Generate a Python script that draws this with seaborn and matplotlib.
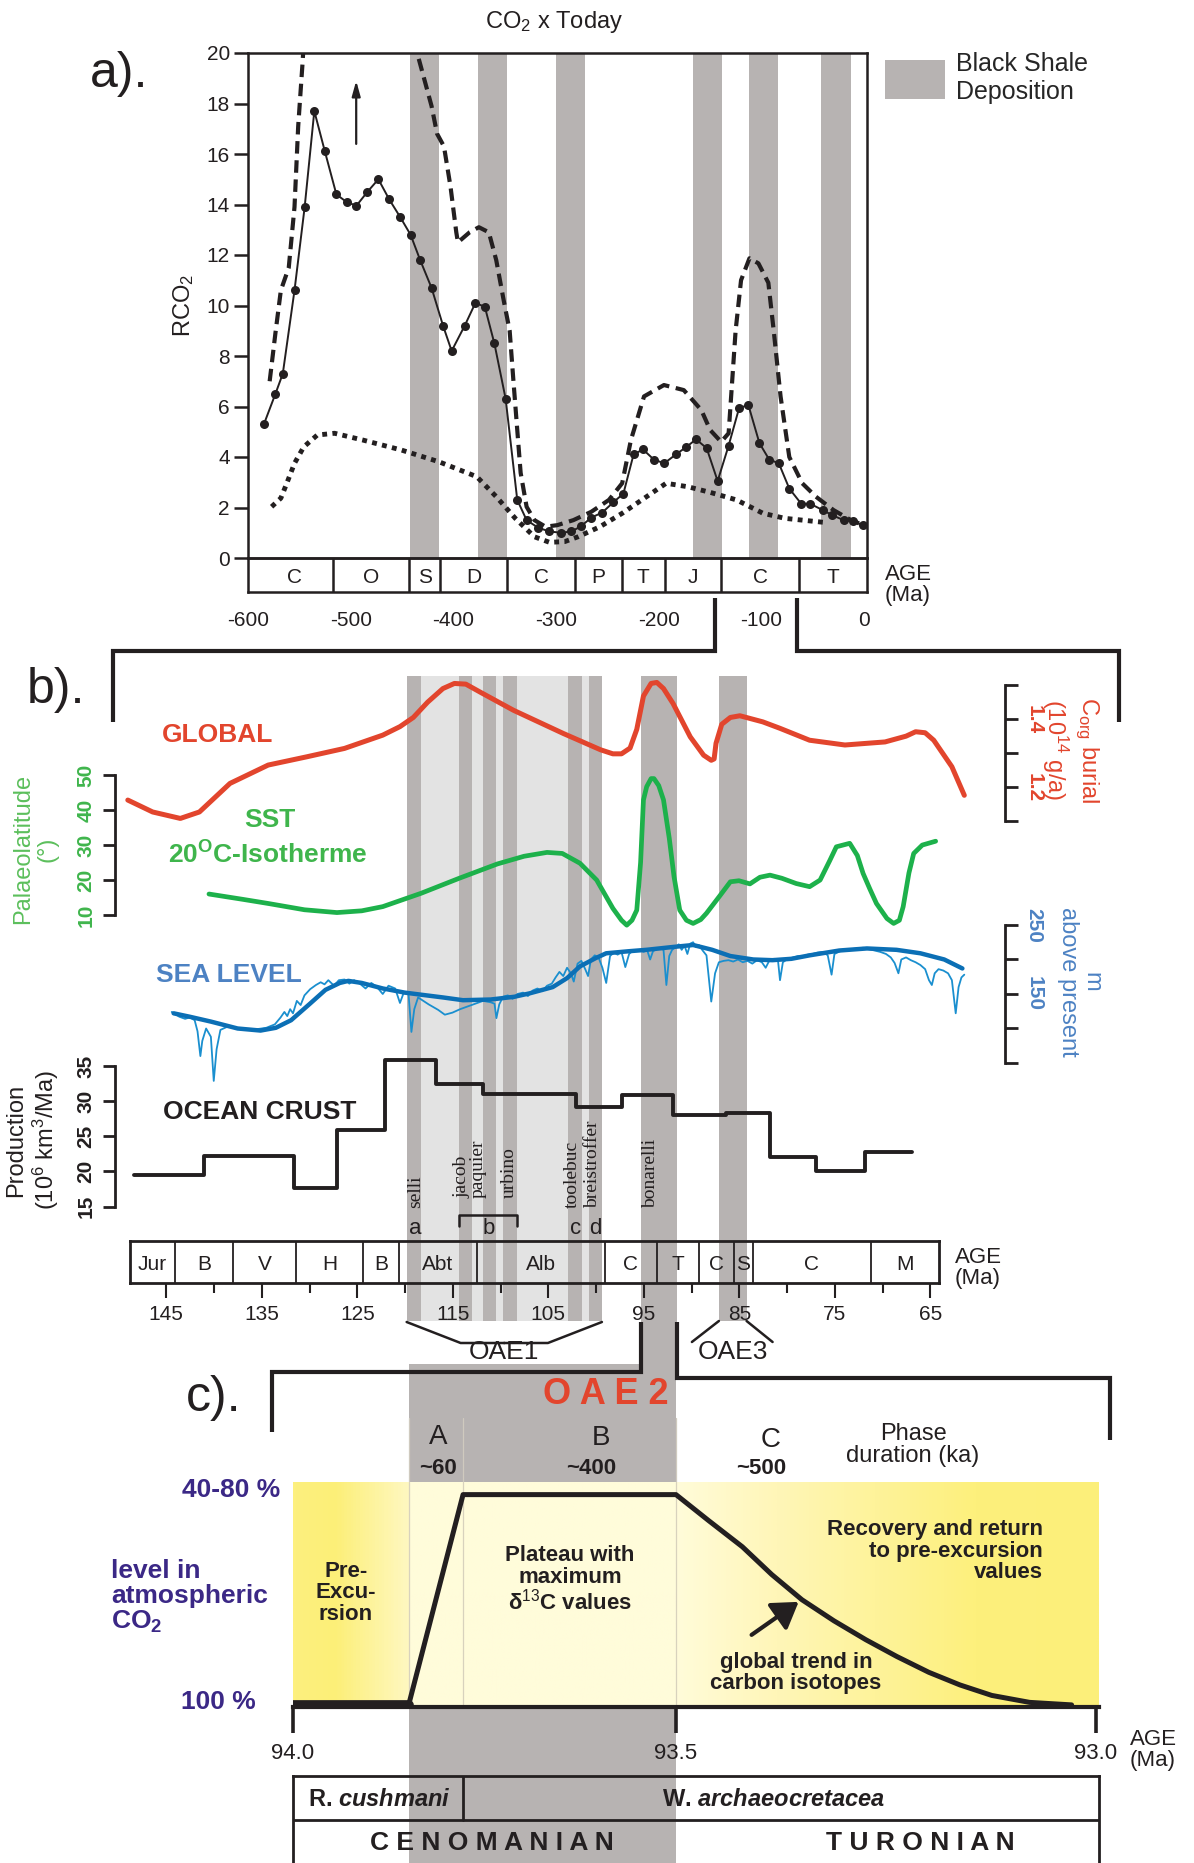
import numpy as np
import matplotlib
matplotlib.use("Agg")
import matplotlib.pyplot as plt
import seaborn as sns
from matplotlib.patches import Patch
from matplotlib.colors import LinearSegmentedColormap

# ---------------- a) RCO2 through the Phanerozoic ----------------
age_geocarb = [-584.5, -573.3, -566.1, -554.7, -544.8, -535.4, -525.1, -513.9, -504.0, -494.4,
               -483.7, -473.0, -462.4, -451.7, -441.6, -432.3, -421.2, -410.0, -401.6, -388.9,
               -378.5, -369.3, -360.0, -349.0, -337.7, -328.6, -317.4, -306.3, -295.1, -285.0,
               -275.8, -265.6, -254.9, -244.3, -234.3, -224.4, -215.2, -204.7, -194.5, -183.2,
               -172.9, -163.5, -153.2, -142.5, -131.8, -121.5, -112.5, -101.8, -92.3, -82.9,
               -72.7, -61.1, -52.4, -40.3, -31.0, -19.8, -10.3, -1.0]
rco2_geocarb = [5.3, 6.5, 7.3, 10.6, 13.9, 17.7, 16.1, 14.4, 14.1, 13.95,
                14.5, 15.0, 14.2, 13.5, 12.8, 11.8, 10.7, 9.2, 8.2, 9.2,
                10.1, 9.95, 8.5, 6.3, 2.3, 1.5, 1.2, 1.05, 1.0, 1.05,
                1.25, 1.6, 1.8, 2.2, 2.55, 4.1, 4.3, 3.9, 3.75, 4.1,
                4.4, 4.7, 4.35, 3.05, 4.45, 5.95, 6.05, 4.55, 3.9, 3.75,
                2.75, 2.15, 2.15, 1.9, 1.7, 1.5, 1.45, 1.3]

age_upper = [-578.9, -573.3, -568.0, -560.3, -554.7, -551.1, -546.7, -545.0, -437.0, -435.2,
             -421.2, -415.8, -409.1, -402.7, -397.1, -395.5, -384.1, -375.1, -365.4, -358.2,
             -350.9, -345.1, -341.5, -337.7, -334.4, -328.6, -321.0, -310.2, -298.8, -283.0,
             -265.6, -248.4, -235.5, -227.0, -214.2, -194.8, -175.5, -158.4, -149.8, -139.1,
             -131.8, -125.0, -119.7, -111.5, -102.8, -93.1, -87.6, -81.2, -72.7, -60.1,
             -46.8, -29.7, -12.6, -1.0]
rco2_upper = [7.0, 8.9, 10.6, 11.5, 13.9, 17.1, 19.7, 21.0, 21.0, 20.0,
              17.9, 16.8, 16.3, 14.7, 12.9, 12.5, 12.9, 13.1, 12.9, 11.8,
              10.2, 9.0, 7.05, 5.07, 3.37, 2.03, 1.5, 1.24, 1.3, 1.5,
              1.83, 2.3, 2.96, 4.67, 6.4, 6.85, 6.65, 5.86, 5.07, 4.6,
              4.94, 9.0, 11.0, 11.87, 11.67, 10.9, 8.9, 6.4, 4.0, 2.96,
              2.43, 1.9, 1.5, 1.31]

age_lower = [-577.0, -568.0, -562.2, -554.7, -545.7, -532.5, -515.7, -488.0, -450.9, -413.9,
             -377.1, -358.2, -339.6, -321.0, -306.3, -291.4, -278.5, -257.1, -235.5, -214.2,
             -192.7, -171.3, -149.8, -124.1, -98.3, -76.9, -55.3, -36.1]
rco2_lower = [2.03, 2.37, 2.96, 3.75, 4.4, 4.87, 4.94, 4.67, 4.28, 3.81,
              3.22, 2.43, 1.57, 0.84, 0.62, 0.65, 0.84, 1.24, 1.77, 2.36,
              2.96, 2.82, 2.6, 2.3, 1.77, 1.57, 1.48, 1.4]

shale_a = [(-442.0, -413.9), (-376.1, -348.0), (-299.5, -271.4),
           (-166.7, -138.6), (-111.5, -83.4), (-41.7, -12.6)]
period_names = ['C', 'O', 'S', 'D', 'C', 'P', 'T', 'J', 'C', 'T']
period_edges = [-593, -517, -443, -413, -348, -281, -236, -194, -139, -63, 3]
age_ticks_a = [-600, -500, -400, -300, -200, -100, 0]
zoom_window = (-145, -65)

# ---------------- b) Cretaceous records ----------------
age_burial = [149.0, 146.4, 143.5, 141.5, 138.3, 134.3, 130.3, 126.3, 122.3, 120.5,
              119.1, 117.6, 116.0, 114.8, 113.6, 112.0, 108.6, 103.4, 99.5, 98.2,
              97.3, 96.4, 95.7, 95.0, 94.2, 93.6, 92.9, 91.9, 90.1, 88.7,
              87.9, 87.6, 87.4, 86.8, 85.9, 84.9, 82.5, 80.7, 77.6, 73.9,
              69.7, 67.5, 66.5, 65.5, 64.6, 62.7, 61.4]
burial = [1.162, 1.127, 1.108, 1.127, 1.211, 1.265, 1.289, 1.314, 1.353, 1.378,
          1.405, 1.45, 1.49, 1.505, 1.503, 1.478, 1.426, 1.358, 1.31, 1.298,
          1.298, 1.315, 1.37, 1.468, 1.505, 1.508, 1.49, 1.446, 1.348, 1.294,
          1.279, 1.283, 1.329, 1.385, 1.405, 1.41, 1.392, 1.373, 1.338, 1.324,
          1.333, 1.35, 1.363, 1.36, 1.338, 1.260, 1.176]

age_sst = [140.5, 137.0, 134.3, 130.5, 127.1, 124.5, 122.3, 118.3, 114.3, 110.3,
           107.5, 105.1, 103.5, 101.65, 99.9, 98.2, 97.3, 96.75, 96.2, 95.7,
           95.3, 95.0, 94.66, 94.2, 93.9, 93.4, 92.9, 92.3, 91.8, 91.2,
           90.5, 89.8, 89.0, 88.4, 87.0, 85.9, 85.0, 83.85, 82.8, 81.75,
           80.5, 79.0, 77.6, 76.5, 75.5, 74.8, 73.4, 72.6, 72.0, 71.3,
           70.6, 69.5, 68.8, 68.2, 67.8, 67.2, 66.7, 65.8, 64.4]
sst_lat = [16.0, 14.5, 13.3, 11.5, 10.7, 11.2, 12.4, 16.2, 20.5, 24.6,
           26.8, 27.9, 27.6, 24.8, 20.0, 11.9, 8.5, 7.1, 8.5, 11.4,
           25.0, 42.9, 46.7, 49.0, 49.0, 47.0, 42.9, 32.0, 21.0, 11.4,
           8.5, 7.6, 8.7, 10.5, 15.5, 19.5, 19.8, 18.9, 20.8, 21.4,
           20.5, 19.0, 18.1, 20.0, 25.5, 29.5, 30.5, 27.0, 21.9, 17.5,
           13.3, 9.0, 7.6, 8.5, 12.4, 22.0, 27.6, 30.0, 31.1]

age_sea_smooth = [144.2, 142.5, 140.3, 137.5, 135.1, 133.5, 131.9, 130.0, 128.3, 126.8,
                  125.9, 124.5, 122.3, 120.0, 118.3, 116.0, 113.9, 111.0, 108.5, 106.9,
                  104.5, 103.0, 101.65, 100.0, 98.9, 96.5, 94.7, 92.0, 89.8, 87.8,
                  85.9, 83.5, 81.5, 79.5, 77.6, 74.5, 71.6, 68.5, 66.0, 63.5, 61.6]
sea_smooth = [122, 117, 110, 100, 97, 101, 112, 135, 156, 166,
              169, 166, 158, 152, 149, 145, 141, 142, 146, 151,
              160, 173, 190, 202, 209, 212, 214, 218, 221, 214,
              205, 200, 199, 201, 206, 213, 216, 214, 209, 200, 187]

age_sea = [144.4, 143.6, 143.0, 142.5, 142.0, 141.7, 141.4, 141.2, 140.8, 140.3,
           140.0, 139.7, 139.3, 138.5, 137.5, 136.5, 135.5, 134.5, 133.6, 133.0,
           132.6, 132.3, 132.0, 131.7, 131.3, 130.9, 130.5, 129.9, 129.3, 128.8,
           128.4, 128.0, 127.4, 126.9, 126.3, 125.8, 125.3, 124.7, 124.1, 123.5,
           122.9, 122.3, 121.7, 121.0, 120.5, 120.1, 119.6, 119.3, 119.0, 118.6,
           117.5, 116.5, 115.8, 115.0, 114.2, 113.4, 112.6, 111.8, 111.0, 110.6,
           110.4, 110.1, 109.7, 109.2, 108.7, 108.2, 107.6, 107.1, 106.6, 106.1,
           105.6, 105.1, 104.6, 104.2, 103.8, 103.4, 103.0, 102.6, 102.3, 101.9,
           101.5, 101.1, 100.8, 100.5, 100.1, 99.7, 99.3, 98.9, 98.5, 98.1,
           97.7, 97.3, 96.9, 96.5, 96.1, 95.7, 95.3, 95.0, 94.6, 94.3,
           94.0, 93.6, 93.2, 92.9, 92.6, 92.3, 92.0, 91.7, 91.3, 91.0,
           90.7, 90.4, 90.1, 89.8, 89.5, 89.2, 88.8, 88.4, 87.9, 87.5,
           87.1, 86.6, 86.1, 85.6, 85.1, 84.6, 84.1, 83.6, 83.1, 82.6,
           82.2, 81.8, 81.3, 80.9, 80.7, 80.4, 79.9, 79.3, 78.8, 78.3,
           77.8, 77.3, 76.8, 76.2, 75.7, 75.3, 75.0, 74.4, 73.8, 73.2,
           72.6, 72.0, 71.4, 70.8, 70.2, 69.6, 69.1, 68.7, 68.3, 68.0,
           67.5, 67.0, 66.5, 66.0, 65.5, 65.1, 64.8, 64.5, 64.1, 63.6,
           63.1, 62.7, 62.3, 62.0, 61.7, 61.4]
sea = [124, 117, 114, 116, 112, 96, 60, 82, 100, 88,
       24, 70, 98, 103, 100, 98, 99, 101, 106, 116,
       124, 118, 128, 122, 140, 134, 148, 157, 163, 167,
       164, 170, 162, 170, 171, 165, 170, 165, 158, 166,
       160, 150, 162, 158, 137, 152, 150, 95, 128, 145,
       135, 127, 120, 123, 128, 132, 136, 140, 138, 136,
       115, 135, 146, 148, 143, 150, 152, 147, 155, 158,
       154, 162, 165, 174, 182, 176, 188, 180, 168, 194,
       198, 186, 176, 200, 206, 203, 188, 166, 205, 210,
       207, 211, 189, 208, 213, 212, 214, 211, 213, 200,
       212, 215, 216, 214, 163, 205, 214, 217, 222, 214,
       220, 208, 223, 225, 218, 221, 213, 206, 139, 180,
       196, 198, 199, 197, 200, 196, 198, 194, 199, 196,
       188, 199, 201, 197, 170, 196, 201, 203, 205, 204,
       207, 208, 210, 211, 206, 178, 208, 212, 214, 215,
       216, 217, 215, 213, 211, 208, 203, 195, 180, 200,
       203, 199, 196, 192, 186, 170, 163, 180, 186, 184,
       180, 170, 122, 160, 174, 178]

age_crust = [148.4, 141.0, 131.6, 127.1, 122.1, 116.7, 111.8, 102.1, 97.2, 91.9,
             86.4, 81.8, 76.9, 71.8, 66.9]
crust = [19.5, 22.2, 17.7, 25.9, 35.8, 32.4, 31.0, 29.2, 30.9, 28.0,
         28.3, 22.1, 20.0, 22.7, 22.7]

stage_edges_b = [148.8, 144.1, 138.0, 131.4, 124.4, 120.6, 112.5, 99.1, 93.6, 89.2,
                 85.6, 83.6, 71.2, 64.1]
stage_names_b = ['Jur', 'B', 'V', 'H', 'B', 'Abt', 'Alb', 'C', 'T', 'C', 'S', 'C', 'M']
age_ticks_b = [145, 135, 125, 115, 105, 95, 85, 75, 65]
age_minor_b = [140, 130, 120, 110, 100, 90, 80, 70]

oae1_span = (119.8, 99.35)
oae1_bands = [(119.8, 118.3), (114.3, 113.0), (111.8, 110.4), (109.7, 108.2),
              (102.9, 101.4), (100.7, 99.35)]
oae2_band = (95.3, 91.5)
oae3_band = (87.1, 84.2)
event_names = ['selli', 'jacob', 'paquier', 'urbino', 'toolebuc', 'breistroffer', 'bonarelli']
event_ages = [118.9, 114.0, 112.3, 109.1, 102.5, 100.3, 94.3]

# ---------------- c) OAE2 phases ----------------
co2_age = [94.0, 93.849, 93.778, 93.5, 93.461, 93.421, 93.386, 93.35, 93.312, 93.274,
           93.237, 93.199, 93.162, 93.124, 93.079, 93.029]
co2_level = [0.0, 0.0, 1.0, 1.0, 0.876, 0.752, 0.62, 0.50, 0.40, 0.31,
             0.23, 0.155, 0.095, 0.045, 0.012, 0.0]
phase_edges = [93.849, 93.778, 93.5]
age_ticks_c = [94.0, 93.5, 93.0]

# ---------------- style ----------------
sns.set_style("white")
plt.rcParams['font.family'] = ['Liberation Sans', 'DejaVu Sans']
plt.rcParams['mathtext.fontset'] = 'custom'
plt.rcParams['mathtext.rm'] = 'Liberation Sans'
plt.rcParams['mathtext.it'] = 'Liberation Sans:italic:bold'
plt.rcParams['mathtext.bf'] = 'Liberation Sans:bold'
plt.rcParams['axes.unicode_minus'] = False

INK = '#231f20'
GRAY = '#b7b3b2'
LIGHT = '#e3e3e3'
RED = '#e2452d'
GREEN = '#1db14b'
GREEN_T = '#3fb54c'
GREEN_L = '#5cbf5c'
BLUE = '#0b6fb5'
BLUE_THIN = '#1a8fcf'
BLUE_T = '#4d82c3'
PURPLE = '#3b2886'

W, H = 1194, 1863
fig = plt.figure(figsize=(W / 100, H / 100), dpi=100)


def rect(x0, y0, x1, y1):
    return [x0 / W, 1 - y1 / H, (x1 - x0) / W, (y1 - y0) / H]


def txt(x, y, s, **kw):
    kw.setdefault('ha', 'center')
    kw.setdefault('va', 'center')
    kw.setdefault('color', INK)
    fig.text(x / W, 1 - y / H, s, **kw)


def xpix(ax, age):
    return ax.transData.transform((age, 0))[0]


# the OAE2 time axis of the original is drawn with a wider Turonian half
def c_fwd(x):
    x = np.asarray(x, dtype=float)
    return np.where(x >= 93.5, (x - 94.0) * 766.0, -383.0 + (x - 93.5) * 840.0)


def c_inv(u):
    u = np.asarray(u, dtype=float)
    return np.where(u >= -383.0, 94.0 + u / 766.0, 93.5 + (u + 383.0) / 840.0)


# ================= panel a =================
ax_a = fig.add_axes(rect(248, 53, 867, 558))
for a, b in shale_a:
    ax_a.axvspan(a, b, color=GRAY, lw=0, zorder=0)
sns.lineplot(x=age_upper, y=rco2_upper, ax=ax_a, color=INK, lw=3,
             linestyle=(0, (3, 1.6)), estimator=None)
sns.lineplot(x=age_lower, y=rco2_lower, ax=ax_a, color=INK, lw=3.5,
             linestyle=(0, (1, 1.1)), estimator=None)
sns.lineplot(x=age_geocarb, y=rco2_geocarb, ax=ax_a, color=INK, lw=1.4,
             marker='o', markersize=6.5, markeredgewidth=0, estimator=None)
ax_a.set_xlim(-600, 3)
ax_a.set_ylim(0, 20)
ax_a.set_xticks([])
ax_a.set_yticks(range(0, 21, 2))
ax_a.tick_params(axis='y', left=True, direction='out', length=10, width=1.8,
                 labelsize=15, pad=3, colors=INK)
for s in ax_a.spines.values():
    s.set_linewidth(1.8)
    s.set_color(INK)
ax_a.annotate('', xy=(-494.6, 18.9), xytext=(-494.6, 16.4),
              arrowprops=dict(arrowstyle='-|>,head_length=0.9,head_width=0.25',
                              lw=1.6, color=INK, shrinkA=0, shrinkB=0))
ax_a.legend(handles=[Patch(facecolor=GRAY, edgecolor='none', label='Black Shale\nDeposition')],
            loc='upper left', bbox_to_anchor=(885 / W, 1 - 52 / H),
            bbox_transform=fig.transFigure, frameon=False, fontsize=18,
            handlelength=2.4, handleheight=2.0, handletextpad=0.45,
            borderpad=0, borderaxespad=0, labelspacing=0)

ax_t = fig.add_axes(rect(248, 558, 867, 592))
ax_t.set_facecolor('none')
ax_t.set_xlim(-600, 3)
ax_t.set_ylim(0, 1)
for e in period_edges[1:-1]:
    ax_t.axvline(e, color=INK, lw=1.8)
for name, lo, hi in zip(period_names, period_edges[:-1], period_edges[1:]):
    ax_t.text((lo + hi) / 2, 0.42, name, ha='center', va='center', fontsize=15, color=INK)
ax_t.set_yticks([])
ax_t.set_xticks(age_ticks_a)
ax_t.tick_params(axis='x', length=0, labelsize=15, pad=14, colors=INK)
for s in ax_t.spines.values():
    s.set_linewidth(1.8)
    s.set_color(INK)

txt(119, 74, 'a).', fontsize=36)
txt(554, 22, 'CO$_2$ x Today', fontsize=17)
txt(184, 305, 'RCO$_2$', fontsize=17, rotation=90)
txt(885, 585, 'AGE\n(Ma)', fontsize=16, ha='left', linespacing=1.0)

# ================= panel b =================
XB = (150.55, 45.2)
ax_bg = fig.add_axes(rect(113, 676, 1119, 1372))
ax_bg.set_xlim(*XB)
ax_bg.set_ylim(0, 1)
ax_bg.axis('off')
low = (1372 - 1321) / (1372 - 676)
ax_bg.axvspan(*oae1_span, ymin=low, color=LIGHT, lw=0)
for a, b in oae1_bands:
    ax_bg.axvspan(a, b, ymin=low, color=GRAY, lw=0)
ax_bg.axvspan(*oae3_band, ymin=low, color=GRAY, lw=0)
ax_bg.axvspan(*oae2_band, ymin=0, color=GRAY, lw=0)


def layer():
    ax = fig.add_axes(rect(113, 660, 1119, 1240))
    ax.set_facecolor('none')
    ax.set_xticks([])
    for k in ['top', 'bottom', 'left', 'right']:
        ax.spines[k].set_visible(False)
    return ax


def side_axis(ax, side, frac, bounds, ticks, labels, color):
    sp = ax.spines[side]
    sp.set_visible(True)
    sp.set_position(('axes', frac))
    sp.set_bounds(*bounds)
    sp.set_linewidth(2)
    sp.set_color(INK)
    if side == 'right':
        ax.yaxis.tick_right()
        ax.tick_params(axis='y', right=True, left=False, labelrotation=-90)
    else:
        ax.tick_params(axis='y', left=True, right=False, labelrotation=90)
    ax.set_yticks(ticks, labels)
    ax.tick_params(axis='y', direction='out', length=9, width=2, labelsize=15,
                   labelcolor=color, color=INK, pad=5)
    for t in ax.get_yticklabels():
        t.set_fontweight('bold')
        t.set_va('center')


ax_r = layer()
sns.lineplot(x=age_burial, y=burial, ax=ax_r, color=RED, lw=3.6, estimator=None)
ax_r.set_xlim(*XB)
ax_r.set_ylim(-0.132, 1.574)
side_axis(ax_r, 'right', (1005 - 113) / 1006, (1.1, 1.5), [1.1, 1.2, 1.3, 1.4, 1.5],
          ['', '1.2', '', '1.4', ''], RED)

ax_g = layer()
sns.lineplot(x=age_sst, y=sst_lat, ax=ax_g, color=GREEN, lw=3.4, estimator=None)
ax_g.set_xlim(*XB)
ax_g.set_ylim(-82.9, 82.9)
side_axis(ax_g, 'left', 2 / 1006, (10, 50), [10, 20, 30, 40, 50],
          ['10', '20', '30', '40', '50'], GREEN_T)

ax_s = layer()
sns.lineplot(x=age_sea, y=sea, ax=ax_s, color=BLUE_THIN, lw=1.3, estimator=None)
sns.lineplot(x=age_sea_smooth, y=sea_smooth, ax=ax_s, color=BLUE, lw=3.2, estimator=None)
ax_s.set_xlim(*XB)
ax_s.set_ylim(-206.5, 634)
side_axis(ax_s, 'right', (1005 - 113) / 1006, (50, 250), [50, 100, 150, 200, 250],
          ['', '', '150', '', '250'], BLUE_T)

ax_k = layer()
sns.lineplot(x=age_crust, y=crust, ax=ax_k, color=INK, lw=2.8, estimator=None,
             sort=False, drawstyle='steps-post')
ax_k.set_xlim(*XB)
ax_k.set_ylim(10.25, 92.75)
side_axis(ax_k, 'left', 2 / 1006, (15, 35), [15, 20, 25, 30, 35],
          ['15', '20', '25', '30', '35'], INK)

ax_st = fig.add_axes(rect(130, 1241, 939, 1283))
ax_st.set_facecolor('none')
ax_st.set_xlim(stage_edges_b[0], stage_edges_b[-1])
ax_st.set_ylim(0, 1)
for e in stage_edges_b[1:-1]:
    ax_st.axvline(e, color=INK, lw=1.3)
for name, lo, hi in zip(stage_names_b, stage_edges_b[:-1], stage_edges_b[1:]):
    ax_st.text((lo + hi) / 2, 0.45, name, ha='center', va='center', fontsize=15, color=INK)
ax_st.set_yticks([])
ax_st.set_xticks(age_ticks_b)
ax_st.set_xticks(age_minor_b, minor=True)
ax_st.tick_params(axis='x', which='major', bottom=True, length=11, width=1.5,
                  labelsize=15, pad=5, colors=INK)
ax_st.tick_params(axis='x', which='minor', bottom=True, length=7, width=1.5, colors=INK)
for s in ax_st.spines.values():
    s.set_linewidth(2)
    s.set_color(INK)

for name, age in zip(event_names, event_ages):
    bottom = 1208 if name in ('selli', 'toolebuc', 'breistroffer', 'bonarelli') else 1198
    txt(xpix(ax_bg, age), bottom, name, rotation=90, va='bottom', fontsize=14,
        family='Liberation Serif')
for lab, age in zip(['a', 'b', 'c', 'd'], [118.9, 111.2, 102.1, 100.0]):
    txt(xpix(ax_bg, age), 1229, lab, fontsize=16)

txt(56, 690, 'b).', fontsize=36)
txt(218, 735, 'GLOBAL', fontsize=19, weight='bold', color=RED)
txt(270, 820, 'SST', fontsize=19, weight='bold', color=GREEN_T)
txt(268, 855, r'20$^{\mathbf{O}}$C-Isotherme', fontsize=19, weight='bold', color=GREEN_T)
txt(229, 975, 'SEA LEVEL', fontsize=19, weight='bold', color=BLUE_T)
txt(260, 1112, 'OCEAN CRUST', fontsize=19, weight='bold', color=INK)
txt(35, 849, 'Palaeolatitude\n(°)', fontsize=17, rotation=90, color=GREEN_L, linespacing=1.15)
txt(33, 1140, 'Production\n(10$^6$ km$^3$/Ma)', fontsize=17, rotation=90, linespacing=1.15)
txt(1070, 750, 'C$_{\\mathrm{org}}$ burial\n(10$^{14}$ g/a)', fontsize=17, rotation=-90,
    color=RED, linespacing=1.1)
txt(1080, 982, 'm\nabove present', fontsize=17, rotation=-90, color=BLUE_T, linespacing=1.1)
txt(955, 1268, 'AGE\n(Ma)', fontsize=16, ha='left', linespacing=1.05)

# ================= panel c =================
XC = (94.0, 92.9964)
ax_cbg = fig.add_axes(rect(293, 1364, 1099, 1863))
ax_cbg.set_xscale('function', functions=(c_fwd, c_inv))
ax_cbg.set_xlim(*XC)
ax_cbg.set_ylim(0, 1)
ax_cbg.axis('off')
ax_cbg.axvspan(phase_edges[0], phase_edges[-1], color=GRAY, lw=0)
for e in phase_edges:
    ax_cbg.axvline(e, ymin=(1863 - 1707) / 499, ymax=(1863 - 1418) / 499,
                   color='#cfcabf', lw=0.9)

ax_y = fig.add_axes(rect(293, 1482, 1099, 1707))
ax_y.axis('off')
yellow = LinearSegmentedColormap.from_list('yellow', [
    (0.0, '#fdf07e'), (0.05, '#fcef78'), (0.143, '#fff8c2'), (0.145, '#fffcda'),
    (0.475, '#fffcda'), (0.60, '#fff6b8'), (0.85, '#fdf07c'), (1.0, '#fcef7a')])
ax_y.imshow(np.linspace(0, 1, 600)[None, :], extent=(0, 1, 0, 1), aspect='auto', cmap=yellow)
ax_y.set_xlim(0, 1)
ax_y.set_ylim(0, 1)

ax_c = fig.add_axes(rect(293, 1482, 1099, 1707))
ax_c.set_facecolor('none')
for e in phase_edges:
    ax_c.axvline(e, color='#d8d2bd', lw=0.9, zorder=1)
sns.lineplot(x=co2_age, y=co2_level, ax=ax_c, color=INK, lw=3.6, estimator=None, sort=False)
sns.lineplot(x=co2_age[:2], y=co2_level[:2], ax=ax_c, color=INK, lw=7, estimator=None)
ax_c.annotate('', xy=(93.354, 0.49), xytext=(93.41, 0.333),
              arrowprops=dict(arrowstyle='-|>,head_length=0.7,head_width=0.45',
                              lw=3, color=INK, shrinkA=0, shrinkB=0, mutation_scale=22))
ax_c.set_xscale('function', functions=(c_fwd, c_inv))
ax_c.set_xlim(*XC)
ax_c.set_ylim(-0.01, 1.06)
ax_c.set_yticks([])
ax_c.set_xticks(age_ticks_c, ['94.0', '93.5', '93.0'])
ax_c.set_xticks([], minor=True)
ax_c.tick_params(axis='x', bottom=True, length=19, width=2.6, labelsize=16, pad=7, colors=INK)
for k in ['top', 'left', 'right']:
    ax_c.spines[k].set_visible(False)
ax_c.spines['bottom'].set_linewidth(3)
ax_c.spines['bottom'].set_color(INK)

ax_bz = fig.add_axes(rect(293, 1776, 1099, 1863))
ax_bz.set_facecolor('none')
ax_bz.set_xscale('function', functions=(c_fwd, c_inv))
ax_bz.set_xlim(*XC)
ax_bz.set_ylim(0, 2)
ax_bz.axhline(1, color=INK, lw=2)
ax_bz.axvline(phase_edges[1], ymin=0.5, ymax=1, color=INK, lw=2)
ax_bz.set_xticks([])
ax_bz.set_xticks([], minor=True)
ax_bz.set_yticks([])
ax_bz.spines['bottom'].set_visible(False)
for k in ['top', 'left', 'right']:
    ax_bz.spines[k].set_linewidth(2)
    ax_bz.spines[k].set_color(INK)

txt(214, 1398, 'c).', fontsize=36)
txt(606, 1395, 'O A E 2', fontsize=26, weight='bold', color=RED)
txt(438, 1437, 'A', fontsize=20)
txt(438, 1469, '~60', fontsize=16, weight='bold')
txt(601, 1438, 'B', fontsize=20)
txt(591, 1469, '~400', fontsize=16, weight='bold')
txt(771, 1440, 'C', fontsize=20)
txt(761, 1469, '~500', fontsize=16, weight='bold')
txt(913, 1445, 'Phase\nduration (ka)', fontsize=17, linespacing=1.05)
txt(231, 1490, '40-80 %', fontsize=19, weight='bold', color=PURPLE)
txt(218, 1702, '100 %', fontsize=19, weight='bold', color=PURPLE)
txt(111, 1597, 'level in\natmospheric\nCO$_\\mathbf{2}$', fontsize=19, weight='bold',
    color=PURPLE, ha='left', linespacing=1.05)
txt(346, 1593, 'Pre-\nExcu-\nrsion', fontsize=16, weight='bold', linespacing=1.05)
txt(570, 1580, 'Plateau with\nmaximum\nδ$^{13}$C values', fontsize=16, weight='bold',
    linespacing=1.05)
txt(1043, 1551, 'Recovery and return\nto pre-excursion\nvalues', fontsize=16, weight='bold',
    ha='right', multialignment='right', linespacing=1.05)
txt(796, 1673, 'global trend in\ncarbon isotopes', fontsize=16, weight='bold', linespacing=1.05)
txt(1130, 1750, 'AGE\n(Ma)', fontsize=16, ha='left', linespacing=1.05)
txt(308, 1800, r'R. $\mathit{cushmani}$', fontsize=17, weight='bold', ha='left')
txt(774, 1800, r'W. $\mathit{archaeocretacea}$', fontsize=17, weight='bold')
txt(492, 1843, 'C E N O M A N I A N', fontsize=19, weight='bold')
txt(920, 1843, 'T U R O N I A N', fontsize=19, weight='bold')

# ================= connectors =================
ax_o = fig.add_axes([0, 0, 1, 1])
ax_o.set_xlim(0, W)
ax_o.set_ylim(H, 0)
ax_o.axis('off')
ka = dict(color=INK, lw=3, solid_capstyle='butt', solid_joinstyle='miter')
za, zb = (xpix(ax_a, age) for age in zoom_window)
ax_o.plot([113, 113, za, za], [722, 651, 651, 598], **ka)
ax_o.plot([zb, zb, 1119, 1119], [598, 651, 651, 722], **ka)
b0, b1 = (xpix(ax_bg, age) for age in oae2_band)
ax_o.plot([272, 272, b0, b0], [1432, 1372, 1372, 1322], **ka)
ax_o.plot([b1, b1, 1110, 1110], [1322, 1378, 1378, 1440], **ka)
o0, o1 = (xpix(ax_bg, age) for age in oae1_span)
ax_o.plot([o0, o0 + 54, o0 + 98], [1322, 1343, 1343], color=INK, lw=1.8)
ax_o.plot([o1 - 98, o1 - 54, o1], [1343, 1343, 1322], color=INK, lw=1.8)
txt((o0 + o1) / 2, 1352, 'OAE1', fontsize=19)
p0, p1 = (xpix(ax_bg, age) for age in oae3_band)
ax_o.plot([p0, p0 - 27], [1321, 1342], color=INK, lw=1.8)
ax_o.plot([p1, p1 + 26], [1321, 1342], color=INK, lw=1.8)
txt((p0 + p1) / 2, 1352, 'OAE3', fontsize=19)
j0, j1 = xpix(ax_bg, 114.3), xpix(ax_bg, 108.2)
ax_o.plot([j0, j0, j1, j1], [1226, 1215, 1215, 1226], color=INK, lw=1.8)

fig.savefig('out.png', dpi=100)
